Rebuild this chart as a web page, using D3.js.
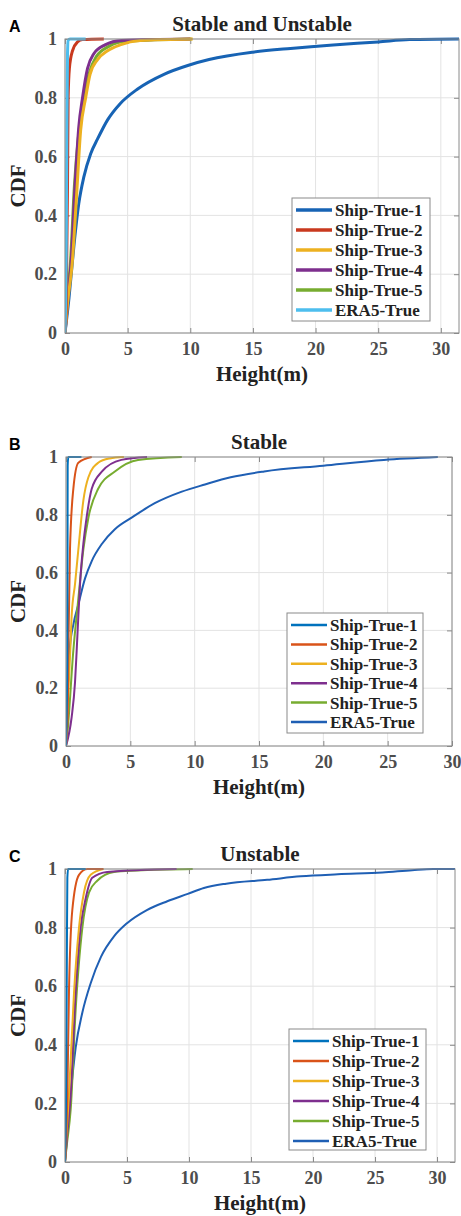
<!DOCTYPE html>
<html>
<head>
<meta charset="utf-8">
<script src="https://cdn.jsdelivr.net/npm/d3@7"></script>
<style>
  body { margin: 0; background: #fff; }
  svg { display: block; }
  text { font-family: "Liberation Serif", "Times New Roman", serif; font-weight: bold; }
  text.letter { font-family: "Liberation Sans", Arial, sans-serif; }
</style>
</head>
<body>
<svg id="fig" width="461" height="1216"></svg>
<script>
// ---- data: [height (m), CDF] ----
var seriesNames = ["Ship-True-1", "Ship-True-2", "Ship-True-3", "Ship-True-4", "Ship-True-5", "ERA5-True"];
var xTicks = [0, 5, 10, 15, 20, 25, 30];
var yTicks = [0, 0.2, 0.4, 0.6, 0.8, 1];

// A: Stable and Unstable
var aShip1 = [[0,0],[0.32,0.12],[0.72,0.3],[1.1,0.44],[1.5,0.53],[2.05,0.61],[2.6,0.66],[3.4,0.725],[4.4,0.78],[5.8,0.83],[7.9,0.88],[9.8,0.91],[11.5,0.93],[15,0.955],[18,0.968],[21.4,0.98],[25,0.99],[27.5,0.998],[31.5,1]];
var aShip2 = [[0,0],[0.1,0.1],[0.2,0.5],[0.25,0.8],[0.35,0.9],[0.6,0.96],[1.0,0.99],[1.4,0.998],[3.1,1]];
var aShip3 = [[0,0],[0.2,0.1],[0.58,0.24],[0.9,0.45],[1.25,0.69],[1.65,0.8],[2.0,0.88],[2.6,0.93],[3.4,0.96],[4.4,0.98],[6,0.995],[10.2,1]];
var aShip4 = [[0,0],[0.2,0.1],[0.5,0.25],[0.8,0.5],[1.1,0.7],[1.4,0.8],[1.8,0.9],[2.3,0.95],[3.2,0.98],[4.5,0.995],[10,1]];
var aShip5 = [[0,0],[0.15,0.1],[0.45,0.25],[0.75,0.5],[1.1,0.68],[1.5,0.8],[1.9,0.88],[2.5,0.94],[3.5,0.975],[5,0.993],[10.1,1]];
var aEra5 = [[0,0],[0.1,0.3],[0.15,0.7],[0.2,0.95],[0.25,0.995],[0.4,1],[1.65,1]];

// B: Stable
var bShip1 = [[0,0],[0.1,0.3],[0.12,0.7],[0.13,0.97],[0.18,1],[1.2,1]];
var bShip2 = [[0,0],[0.05,0.05],[0.13,0.1],[0.18,0.33],[0.31,0.68],[0.57,0.89],[0.96,0.98],[2.0,1]];
var bShip3 = [[0,0],[0.1,0.1],[0.2,0.2],[0.35,0.35],[0.44,0.45],[0.7,0.56],[0.96,0.68],[1.35,0.85],[1.74,0.93],[2.5,0.98],[3.4,0.995],[4.5,1]];
var bShip4 = [[0,0],[0.44,0.1],[0.7,0.22],[0.83,0.33],[0.96,0.45],[1.09,0.56],[1.35,0.7],[1.6,0.79],[2.0,0.89],[2.8,0.95],[4.3,0.99],[6.3,1]];
var bShip5 = [[0,0],[0.1,0.04],[0.57,0.33],[0.96,0.51],[1.35,0.68],[1.74,0.79],[2.5,0.89],[3.8,0.95],[5.6,0.99],[9.0,1]];
var bEra5 = [[0,0],[0.05,0.11],[0.18,0.24],[0.3,0.34],[0.57,0.42],[0.96,0.49],[1.48,0.58],[2.0,0.64],[2.8,0.7],[3.8,0.75],[5.1,0.79],[6.9,0.84],[9,0.88],[10.8,0.905],[12.8,0.93],[15.4,0.95],[20,0.97],[24.7,0.99],[28.9,1]];

// C: Unstable
var cShip1 = [[0,0],[0.1,0.3],[0.15,0.7],[0.19,0.97],[0.25,1],[1.67,1]];
var cShip2 = [[0,0],[0.1,0.08],[0.19,0.23],[0.32,0.58],[0.59,0.86],[1.13,0.98],[1.8,1],[3.1,1]];
var cShip3 = [[0,0],[0.1,0.08],[0.32,0.23],[0.73,0.58],[1.13,0.8],[1.53,0.92],[2.07,0.98],[3.1,1]];
var cShip4 = [[0,0],[0.15,0.08],[0.46,0.23],[0.86,0.58],[1.26,0.8],[1.67,0.9],[2.2,0.97],[3.4,0.99],[9,1]];
var cShip5 = [[0,0],[0.15,0.06],[0.46,0.18],[0.86,0.52],[1.4,0.8],[1.94,0.92],[2.6,0.96],[3.95,0.99],[5.8,0.995],[10.3,1]];
var cEra5 = [[0,0],[0.13,0.064],[0.46,0.23],[0.86,0.39],[1.4,0.51],[2.07,0.61],[2.9,0.7],[3.95,0.77],[5,0.815],[6.6,0.86],[8.25,0.89],[9.9,0.915],[11.2,0.935],[13,0.95],[16.3,0.963],[19,0.975],[22,0.982],[25.6,0.988],[28,0.996],[29.7,1],[31.5,1]];

var colorsA = ["#1763b4", "#c9391e", "#edb120", "#7e2f8e", "#77ac30", "#4dbeee"];
var colorsBC = ["#0072bd", "#d95319", "#edb120", "#7e2f8e", "#77ac30", "#1f5fb4"];

var panels = [
  { letter: "A", title: "Stable and Unstable", series: [aShip1, aShip2, aShip3, aShip4, aShip5, aEra5],
    colors: colorsA, order: [0, 4, 3, 2, 1, 5], lw: 3, legLw: 3.5,
    left: 65, right: 459, top: 39, bottom: 333, xmax: 31.45,
    leg: { x: 292, y: 198, w: 138, h: 123, row: 20 } },
  { letter: "B", title: "Stable", series: [bShip1, bShip2, bShip3, bShip4, bShip5, bEra5],
    colors: colorsBC, order: [5, 4, 3, 2, 1, 0], lw: 2, legLw: 2.5,
    left: 66, right: 452, top: 457, bottom: 746, xmax: 30,
    leg: { x: 287, y: 613, w: 136, h: 120, row: 19.4 } },
  { letter: "C", title: "Unstable", series: [cShip1, cShip2, cShip3, cShip4, cShip5, cEra5],
    colors: colorsBC, order: [5, 4, 3, 2, 1, 0], lw: 2, legLw: 2.5,
    left: 65, right: 455, top: 869, bottom: 1162, xmax: 31.45,
    leg: { x: 289, y: 1029, w: 137, h: 121, row: 20 } }
];

var svg = d3.select("#fig");

panels.forEach(function(p, pi) {
  var x = d3.scaleLinear().domain([0, p.xmax]).range([p.left, p.right]);
  var y = d3.scaleLinear().domain([0, 1]).range([p.bottom, p.top]);
  var g = svg.append("g");

  // grid
  g.selectAll(".gx").data(xTicks).enter().append("line")
    .attr("x1", function(d) { return x(d); }).attr("x2", function(d) { return x(d); })
    .attr("y1", p.top).attr("y2", p.bottom)
    .attr("stroke", "#e3e3e3").attr("stroke-width", 1);
  g.selectAll(".gy").data(yTicks).enter().append("line")
    .attr("y1", function(d) { return y(d); }).attr("y2", function(d) { return y(d); })
    .attr("x1", p.left).attr("x2", p.right)
    .attr("stroke", "#e3e3e3").attr("stroke-width", 1);

  // axes (ticks inward, MATLAB style)
  var xAxis = g.append("g").attr("transform", "translate(0," + p.bottom + ")")
    .call(d3.axisBottom(x).tickValues(xTicks).tickSize(-5).tickPadding(9).tickFormat(d3.format("d")));
  var yAxis = g.append("g").attr("transform", "translate(" + p.left + ",0)")
    .call(d3.axisLeft(y).tickValues(yTicks).tickSize(-5).tickPadding(8).tickFormat(function(d) { return d; }));
  g.append("g").attr("transform", "translate(0," + p.top + ")")
    .call(d3.axisTop(x).tickValues(xTicks).tickSize(-5).tickFormat(""));
  g.append("g").attr("transform", "translate(" + p.right + ",0)")
    .call(d3.axisRight(y).tickValues(yTicks).tickSize(-5).tickFormat(""));
  g.selectAll(".domain").remove();
  g.selectAll(".tick line").attr("stroke", "#8a8a8a");
  [xAxis, yAxis].forEach(function(a) {
    a.selectAll("text").attr("font-size", 18).attr("font-family", null)
      .attr("fill", "#4d4d4d");
  });
  xAxis.selectAll("text").attr("dy", "0.72em");

  // curves
  var clipId = "clip" + pi;
  svg.append("clipPath").attr("id", clipId).append("rect")
    .attr("x", p.left).attr("y", p.top - 2).attr("width", p.right - p.left).attr("height", p.bottom - p.top + 4);
  var line = d3.line().curve(d3.curveMonotoneX)
    .x(function(d) { return x(d[0]); }).y(function(d) { return y(d[1]); });
  var cg = g.append("g").attr("clip-path", "url(#" + clipId + ")");
  p.order.forEach(function(i) {
    cg.append("path").datum(p.series[i])
      .attr("d", line).attr("fill", "none")
      .attr("stroke", p.colors[i]).attr("stroke-width", p.lw)
      .attr("stroke-linejoin", "round");
  });

  // box
  g.append("rect").attr("x", p.left).attr("y", p.top)
    .attr("width", p.right - p.left).attr("height", p.bottom - p.top)
    .attr("fill", "none").attr("stroke", "#8a8a8a").attr("stroke-width", 1);

  // labels
  g.append("text").attr("x", (p.left + p.right) / 2).attr("y", p.top - 8)
    .attr("text-anchor", "middle").attr("font-size", 21).attr("fill", "#222").text(p.title);
  g.append("text").attr("x", (p.left + p.right) / 2).attr("y", p.bottom + 48)
    .attr("text-anchor", "middle").attr("font-size", 21).attr("fill", "#222").text("Height(m)");
  g.append("text").attr("transform", "translate(" + 25 + "," + ((p.top + p.bottom) / 2) + ") rotate(-90)")
    .attr("text-anchor", "middle").attr("font-size", 21).attr("fill", "#222").text("CDF");
  g.append("text").attr("class", "letter").attr("x", 9).attr("y", p.top - 7)
    .attr("font-size", 16).attr("fill", "#000").text(p.letter);

  // legend
  var L = p.leg;
  var lg = g.append("g");
  lg.append("rect").attr("x", L.x).attr("y", L.y).attr("width", L.w).attr("height", L.h)
    .attr("fill", "#fff").attr("stroke", "#8a8a8a").attr("stroke-width", 1);
  var rows = lg.selectAll(".row").data(seriesNames).enter().append("g")
    .attr("transform", function(d, i) { return "translate(" + L.x + "," + (L.y + 12 + i * L.row) + ")"; });
  rows.append("line").attr("x1", 4).attr("x2", 40).attr("y1", 0).attr("y2", 0)
    .attr("stroke", function(d, i) { return p.colors[i]; }).attr("stroke-width", p.legLw);
  rows.append("text").attr("x", 43).attr("y", 0).attr("dy", "0.35em")
    .attr("font-size", 17).attr("fill", "#222").text(function(d) { return d; });
});
</script>
</body>
</html>
